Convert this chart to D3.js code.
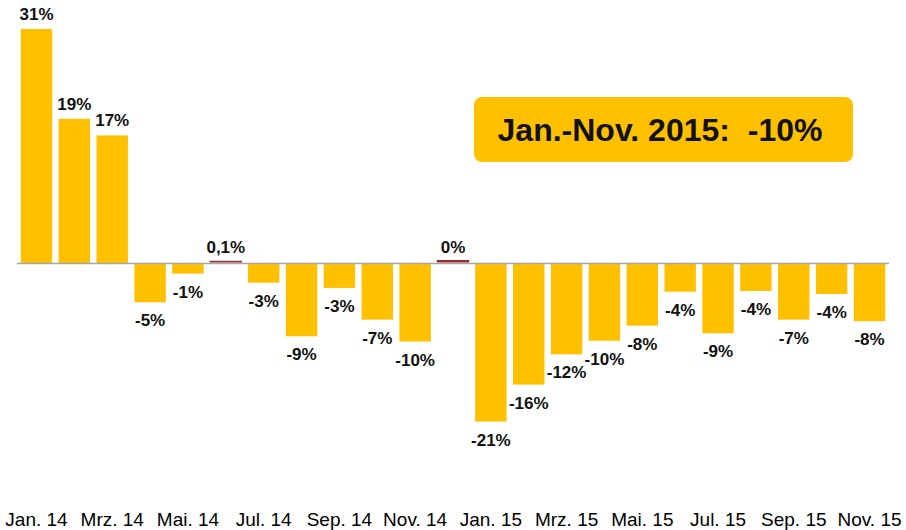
<!DOCTYPE html>
<html>
<head>
<meta charset="utf-8">
<script src="https://cdn.jsdelivr.net/npm/d3@7"></script>
<style>
  body { margin: 0; background: #fff; }
  text { font-family: "Liberation Sans", Arial, sans-serif; }
</style>
</head>
<body>
<div id="chart"></div>
<script>
// months shown as bars (every other one gets an axis label)
var months = ["Jan. 14","Feb. 14","Mrz. 14","Apr. 14","Mai. 14","Jun. 14","Jul. 14","Aug. 14","Sep. 14","Okt. 14","Nov. 14","Dez. 14",
              "Jan. 15","Feb. 15","Mrz. 15","Apr. 15","Mai. 15","Jun. 15","Jul. 15","Aug. 15","Sep. 15","Okt. 15","Nov. 15"];
// change vs previous year in %
var values = [31, 19.1, 16.9, -5.2, -1.4, 0.1, -2.6, -9.7, -3.3, -7.5, -10.4, 0.2,
              -21, -16.1, -12.1, -10.3, -8.3, -3.8, -9.3, -3.7, -7.5, -4.1, -7.7];
var valueLabels = ["31%","19%","17%","-5%","-1%","0,1%","-3%","-9%","-3%","-7%","-10%","0%",
                   "-21%","-16%","-12%","-10%","-8%","-4%","-9%","-4%","-7%","-4%","-8%"];
var tickLabels = ["Jan. 14","Mrz. 14","Mai. 14","Jul. 14","Sep. 14","Nov. 14",
                  "Jan. 15","Mrz. 15","Mai. 15","Jul. 15","Sep. 15","Nov. 15"];
var summaryText = "Jan.-Nov. 2015:  -10%";

var width = 906, height = 530;

var svg = d3.select("#chart")
  .append("svg")
    .attr("width", width)
    .attr("height", height);

var data = months.map(function(m, i) {
  return {month: m, value: values[i], label: valueLabels[i]};
});

// x scale
var x = d3.scaleBand()
  .domain(months)
  .range([17, 889])
  .paddingInner(0.17)
  .paddingOuter(0.1);

// y scale
var y = d3.scaleLinear()
  .domain([-25, 31])
  .range([451.75, 29]);

var gold = "#ffc000";
var darkRed = "#9e2a36";

function isTiny(d) { return d.value >= 0 && d.value < 1; }

// bars
svg.append("g")
  .selectAll("rect")
  .data(data)
  .enter()
  .append("rect")
    .attr("x", function(d) { return x(d.month); })
    .attr("y", function(d) { return y(Math.max(0, d.value)) - (isTiny(d) ? 1 : 0); })
    .attr("width", x.bandwidth())
    .attr("height", function(d) { return Math.abs(y(d.value) - y(0)); })
    .style("fill", function(d) { return isTiny(d) ? darkRed : gold; })
    .style("stroke", function(d) { return isTiny(d) ? darkRed : "none"; })
    .style("stroke-width", 1);

// zero line
svg.append("line")
  .attr("x1", x.range()[0])
  .attr("x2", x.range()[1])
  .attr("y1", y(0) + 0.5)
  .attr("y2", y(0) + 0.5)
  .style("stroke", "#a6a6a6")
  .style("stroke-width", 1.5);

// value labels
svg.append("g")
  .selectAll("text")
  .data(data)
  .enter()
  .append("text")
    .attr("x", function(d) { return x(d.month) + x.bandwidth() / 2; })
    .attr("y", function(d) { return d.value >= 0 ? y(d.value) - 9 : y(d.value) + 24; })
    .attr("text-anchor", "middle")
    .style("font-size", "17px")
    .style("font-weight", "bold")
    .style("fill", "#111")
    .text(function(d) { return d.label; });

// x axis labels (every second month)
var xAxis = d3.axisBottom(x)
  .tickValues(tickLabels)
  .tickSize(0)
  .tickPadding(0);

var gx = svg.append("g")
  .attr("transform", "translate(0,526)")
  .call(xAxis);
gx.select(".domain").remove();
gx.selectAll("text")
  .attr("dy", "0")
  .style("font-family", "'Liberation Sans Narrow', 'Arial Narrow', 'Liberation Sans', sans-serif")
  .style("font-size", "19px")
  .style("fill", "#000");

// summary box
var box = svg.append("g");
box.append("rect")
  .attr("x", 474)
  .attr("y", 97)
  .attr("width", 379)
  .attr("height", 65)
  .attr("rx", 8)
  .style("fill", gold);
box.append("text")
  .attr("x", 660)
  .attr("y", 141)
  .attr("text-anchor", "middle")
  .style("font-size", "32px")
  .style("font-weight", "bold")
  .style("white-space", "pre")
  .style("fill", "#111")
  .text(summaryText);
</script>
</body>
</html>
